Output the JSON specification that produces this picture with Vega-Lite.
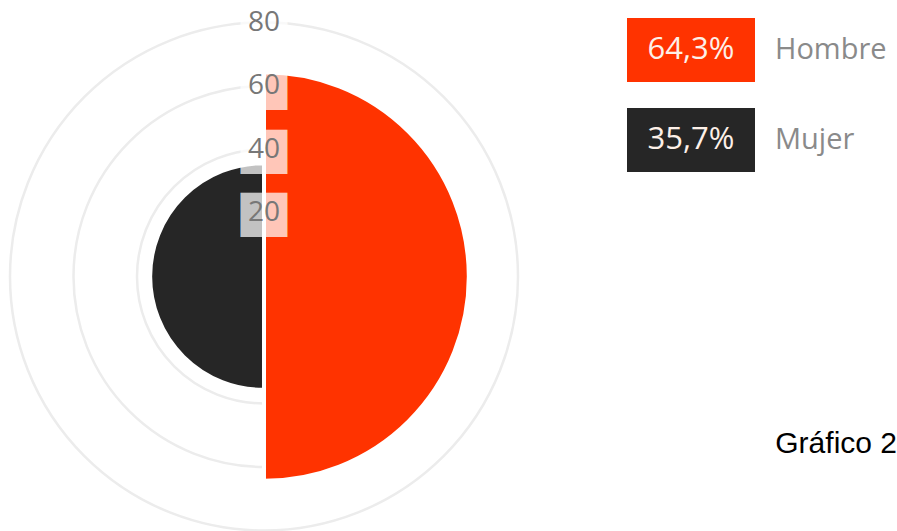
{
  "$schema": "https://vega.github.io/schema/vega-lite/v6.json",
  "padding": 0,
  "spacing": 0,
  "background": "white",
  "config": {"view": {"stroke": null}, "concat": {"spacing": 0}},
  "datasets": {
    "sexo": [
      {"sexo": "Hombre", "valor": 64.3, "pct": "64,3%"},
      {"sexo": "Mujer", "valor": 35.7, "pct": "35,7%"}
    ],
    "ticks": [{"g": 20}, {"g": 40}, {"g": 60}, {"g": 80}]
  },
  "hconcat": [
    {
      "width": 528,
      "height": 553,
      "layer": [
        {
          "data": {"name": "ticks"},
          "mark": {"type": "arc", "theta": 0, "theta2": 6.2832, "fill": null, "stroke": "#ececec", "strokeWidth": 2.5},
          "encoding": {
            "radius": {"field": "g", "type": "quantitative", "stack": null, "scale": {"type": "linear", "domain": [0, 80], "range": [0, 254], "zero": true}}
          }
        },
        {
          "data": {"name": "sexo"},
          "mark": {"type": "arc", "stroke": "white", "strokeWidth": 4},
          "encoding": {
            "theta": {"field": "sexo", "type": "nominal", "scale": {"type": "band", "domain": ["Hombre", "Mujer"], "range": [0, 6.2832], "paddingInner": 0, "paddingOuter": 0}},
            "radius": {"field": "valor", "type": "quantitative", "stack": null},
            "color": {"field": "sexo", "type": "nominal", "scale": {"domain": ["Hombre", "Mujer"], "range": ["#ff3300", "#262626"]}, "legend": null}
          }
        },
        {
          "data": {"name": "ticks"},
          "mark": {"type": "text", "theta": 0, "text": "██", "font": "Liberation Mono", "fontSize": 39, "fill": "white", "opacity": 0.72, "align": "center", "baseline": "middle"},
          "encoding": {
            "radius": {"field": "g", "type": "quantitative", "stack": null}
          }
        },
        {
          "data": {"name": "ticks"},
          "mark": {"type": "text", "theta": 0, "font": "Open Sans", "fontSize": 28, "fill": "#777777", "align": "center", "baseline": "middle"},
          "encoding": {
            "radius": {"field": "g", "type": "quantitative", "stack": null},
            "text": {"field": "g", "type": "quantitative"}
          }
        }
      ]
    },
    {
      "width": 369,
      "height": 420,
      "data": {"name": "sexo"},
      "transform": [{"fold": ["pct", "sexo"], "as": ["key", "label"]}],
      "title": {"text": "Gráfico 2", "orient": "bottom", "anchor": "end", "font": "Liberation Sans", "fontSize": 30, "fontWeight": "normal", "color": "#000000", "offset": 9},
      "encoding": {
        "y": {"field": "sexo", "type": "nominal", "axis": null, "scale": {"type": "band", "domain": ["Hombre", "Mujer"], "range": [18, 172], "paddingInner": 0.289, "paddingOuter": 0}}
      },
      "layer": [
        {
          "transform": [{"filter": "datum.key === 'pct'"}],
          "mark": {"type": "rect"},
          "encoding": {
            "x": {"field": "key", "type": "nominal", "axis": null, "scale": {"type": "band", "domain": ["pct", "sexo"], "range": [99, 355], "paddingInner": 0, "paddingOuter": 0}},
            "color": {"field": "sexo", "type": "nominal", "scale": {"domain": ["Hombre", "Mujer"], "range": ["#ff3300", "#262626"]}, "legend": null}
          }
        },
        {
          "transform": [{"filter": "datum.key === 'pct'"}],
          "mark": {"type": "text", "font": "Open Sans", "fontSize": 31, "fill": "#fdf0e8", "align": "center", "baseline": "middle"},
          "encoding": {
            "x": {"field": "key", "type": "nominal", "axis": null, "scale": {"type": "band", "domain": ["pct", "sexo"], "range": [99, 355], "paddingInner": 0, "paddingOuter": 0}},
            "text": {"field": "label"}
          }
        },
        {
          "transform": [{"filter": "datum.key === 'sexo'"}],
          "mark": {"type": "text", "font": "Open Sans", "fontSize": 29, "fill": "#8a8a8a", "align": "left", "baseline": "middle", "dx": 20},
          "encoding": {
            "x": {"field": "key", "type": "nominal", "axis": null, "bandPosition": 0, "scale": {"type": "band", "domain": ["pct", "sexo"], "range": [99, 355], "paddingInner": 0, "paddingOuter": 0}},
            "text": {"field": "label"}
          }
        }
      ]
    }
  ]
}
